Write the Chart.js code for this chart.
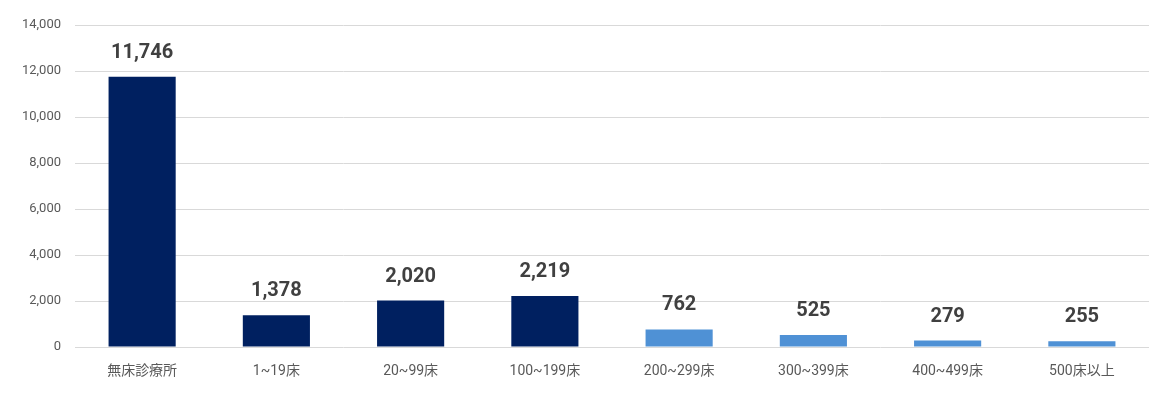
<!DOCTYPE html>
<html lang="ja">
<head>
<meta charset="utf-8">
<title>病床規模別</title>
<script src="https://cdn.jsdelivr.net/npm/chart.js@4/dist/chart.umd.min.js"></script>
<style>
  html,body{margin:0;padding:0;background:#fff;}
  #wrap{width:1168px;height:395px;position:relative;}
</style>
</head>
<body>
<div id="wrap"><canvas id="cv"></canvas></div>
<script>
// 病床規模別の件数
const categories = ["無床診療所","1~19床","20~99床","100~199床","200~299床","300~399床","400~499床","500床以上"];
const counts = [11746, 1378, 2020, 2219, 762, 525, 279, 255];
const barColors = ["#002060","#002060","#002060","#002060","#4F91D5","#4F91D5","#4F91D5","#4F91D5"];
const yTicks = [0, 2000, 4000, 6000, 8000, 10000, 12000, 14000];

const FONT = "Roboto, 'Noto Sans CJK JP', sans-serif";

// 棒の上に数値を描く（datalabels プラグインの代わり）
const valueLabels = {
  id: "valueLabels",
  afterDatasetsDraw(chart){
    const ctx = chart.ctx;
    const meta = chart.getDatasetMeta(0);
    ctx.save();
    ctx.font = "bold 20px " + FONT;
    ctx.fillStyle = "#404040";
    ctx.textAlign = "center";
    ctx.textBaseline = "middle";
    meta.data.forEach((bar, i)=>{
      ctx.fillText(counts[i].toLocaleString("en-US"), bar.x, bar.y - 24);
    });
    ctx.restore();
  }
};

new Chart(document.getElementById("cv"), {
  type: "bar",
  data: {
    labels: categories,
    datasets: [{
      data: counts,
      backgroundColor: barColors,
      borderWidth: 0,
      barPercentage: 0.5,
      categoryPercentage: 1.0
    }]
  },
  options: {
    responsive: true,
    maintainAspectRatio: false,
    animation: false,
    layout: { padding: { top: 25, right: 19, left: 0, bottom: 0 } },
    plugins: { legend: { display: false }, tooltip: { enabled: false } },
    scales: {
      x: {
        grid: { display: false, drawTicks: false },
        border: { display: false },
        ticks: { color: "#595959", font: { family: FONT, size: 14 }, padding: 16, maxRotation: 0 },
        afterFit(s){ s.height = 48; }
      },
      y: {
        min: 0, max: 14000,
        afterBuildTicks(s){ s.ticks = yTicks.map(v=>({value:v})); },
        grid: { color: "#d9d9d9", lineWidth: 1, drawTicks: false },
        border: { display: false },
        ticks: {
          color: "#595959", font: { family: FONT, size: 13 }, padding: 14,
          callback: v => v.toLocaleString("en-US")
        },
        afterFit(s){ s.width = 75; }
      }
    }
  },
  plugins: [valueLabels]
});
</script>
</body>
</html>
